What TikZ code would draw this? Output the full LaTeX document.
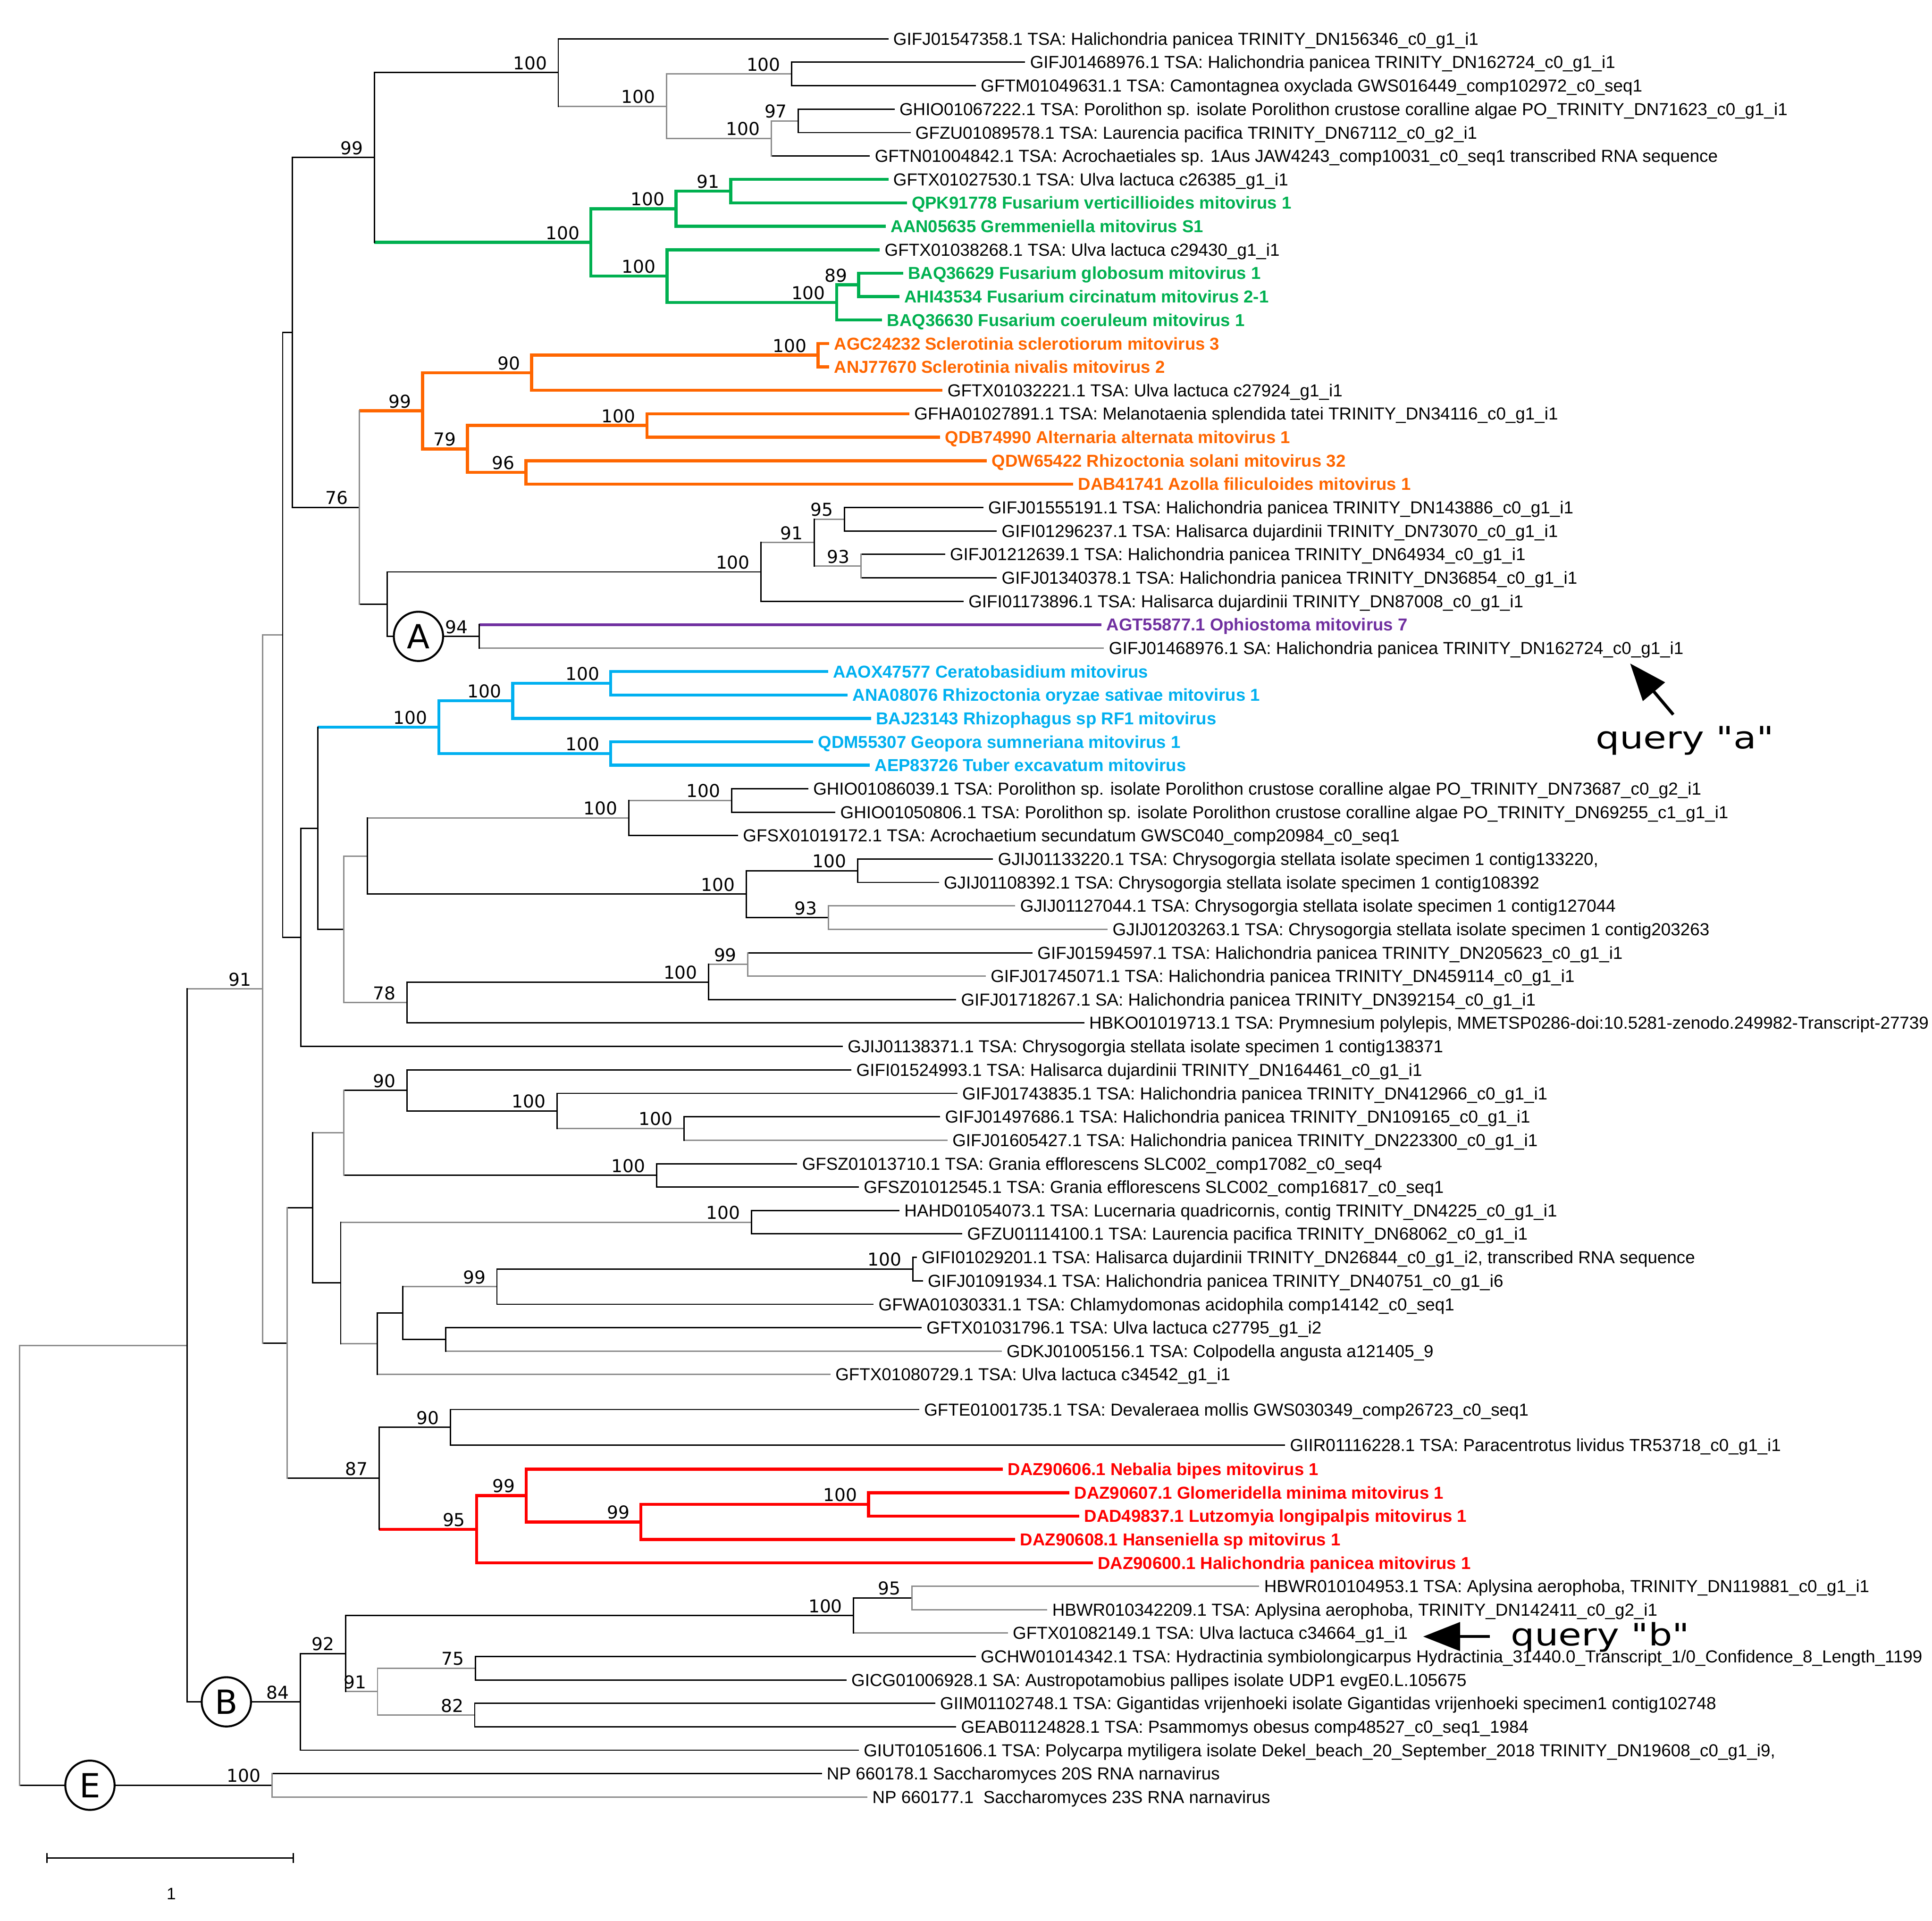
\documentclass[tikz,border=0pt]{standalone}
\usepackage{fontspec}
\usepackage{graphicx}
\setmainfont{Liberation Sans}
\newfontfamily\dvs{DejaVu Sans}
\usetikzlibrary{arrows.meta}
\definecolor{cG}{HTML}{00B050}
\definecolor{cO}{HTML}{FF6600}
\definecolor{cB}{HTML}{00B0F0}
\definecolor{cR}{HTML}{FF0000}
\definecolor{cP}{HTML}{7030A0}
\definecolor{cGr}{HTML}{8C8C8C}
\tikzset{
  brK/.style={draw=black, line width=1.1pt},
  brA/.style={draw=cGr, line width=1.1pt},
  brG/.style={draw=cG, line width=2.5pt},
  brO/.style={draw=cO, line width=2.5pt},
  brB/.style={draw=cB, line width=2.5pt},
  brR/.style={draw=cR, line width=2.5pt},
  brP/.style={draw=cP, line width=2.2pt},
  tip/.style={anchor=west, xshift=-4pt, outer xsep=4pt, outer ysep=0pt, inner sep=0pt,
    text height=10pt, text depth=0pt, font=\fontsize{14.1}{15}\selectfont},
  vtip/.style={tip, font=\fontsize{14}{15}\selectfont\bfseries},
  tG/.style={vtip, text=cG},
  tO/.style={vtip, text=cO},
  tB/.style={vtip, text=cB},
  tR/.style={vtip, text=cR},
  tP/.style={vtip, text=cP},
  sup/.style={anchor=base east, xshift=-9pt, yshift=2.5pt, inner sep=0pt,
    font=\dvs\fontsize{14.4}{15}\selectfont},
  circ/.style={circle, draw=black, line width=1.6pt, fill=white, minimum size=40pt,
    inner sep=0pt, font=\dvs\fontsize{27}{28}\selectfont},
  qlab/.style={anchor=base west, inner sep=0pt, font=\dvs\fontsize{25}{26}\selectfont},
  qarrow/.style={line width=2.5pt, -{Triangle[length=30pt, width=23pt]}}
}
\newcommand\tp[5][tip]{\node[#1] (t#2) at (#3,#4) {#5};}
\newcommand\sv[2]{\node[sup] (s#1) at (#1) {#2};}
\newcommand\nd[6]{%
  \draw[#4, line cap=butt] (#2 |- #3) -- (#3);
  \draw[#6, line cap=butt] (#2 |- #5) -- (#5);
  \draw[#1, line cap=rect] (#2 |- #3) -- (#2 |- #5);}
\begin{document}
\begin{tikzpicture}[x=1pt, y=-1pt]
\fill[white] (0,0) rectangle (1568,1559);
\useasboundingbox (0,0) rectangle (1568,1559);

% ---------- tip labels ----------
\tp{1}{725}{31.5}{GIFJ01547358.1 TSA: Halichondria panicea TRINITY\_DN156346\_c0\_g1\_i1}
\tp{2}{836}{50.5}{GIFJ01468976.1 TSA: Halichondria panicea TRINITY\_DN162724\_c0\_g1\_i1}
\tp{3}{796}{69.5}{GFTM01049631.1 TSA: Camontagnea oxyclada GWS016449\_comp102972\_c0\_seq1}
\tp{4}{730}{88.6}{GHIO01067222.1 TSA: Porolithon sp. isolate Porolithon crustose coralline algae PO\_TRINITY\_DN71623\_c0\_g1\_i1}
\tp{5}{743}{107.6}{GFZU01089578.1 TSA: Laurencia pacifica TRINITY\_DN67112\_c0\_g2\_i1}
\tp{6}{710}{126.6}{GFTN01004842.1 TSA: Acrochaetiales sp. 1Aus JAW4243\_comp10031\_c0\_seq1 transcribed RNA sequence}
\tp{7}{725}{145.6}{GFTX01027530.1 TSA: Ulva lactuca c26385\_g1\_i1}
\tp[tG]{8}{740}{164.6}{QPK91778 Fusarium verticillioides mitovirus 1}
\tp[tG]{9}{723}{183.7}{AAN05635 Gremmeniella mitovirus S1}
\tp{10}{718}{202.7}{GFTX01038268.1 TSA: Ulva lactuca c29430\_g1\_i1}
\tp[tG]{11}{737}{221.7}{BAQ36629 Fusarium globosum mitovirus 1}
\tp[tG]{12}{734}{240.7}{AHI43534 Fusarium circinatum mitovirus 2-1}
\tp[tG]{13}{720}{259.7}{BAQ36630 Fusarium coeruleum mitovirus 1}
\tp[tO]{14}{677}{278.8}{AGC24232 Sclerotinia sclerotiorum mitovirus 3}
\tp[tO]{15}{677}{297.8}{ANJ77670 Sclerotinia nivalis mitovirus 2}
\tp{16}{769}{316.8}{GFTX01032221.1 TSA: Ulva lactuca c27924\_g1\_i1}
\tp{17}{742}{335.8}{GFHA01027891.1 TSA: Melanotaenia splendida tatei TRINITY\_DN34116\_c0\_g1\_i1}
\tp[tO]{18}{767}{354.8}{QDB74990 Alternaria alternata mitovirus 1}
\tp[tO]{19}{805}{373.9}{QDW65422 Rhizoctonia solani mitovirus 32}
\tp[tO]{20}{875}{392.9}{DAB41741 Azolla filiculoides mitovirus 1}
\tp{21}{802}{411.9}{GIFJ01555191.1 TSA: Halichondria panicea TRINITY\_DN143886\_c0\_g1\_i1}
\tp{22}{813}{430.9}{GIFI01296237.1 TSA: Halisarca dujardinii TRINITY\_DN73070\_c0\_g1\_i1}
\tp{23}{771}{449.9}{GIFJ01212639.1 TSA: Halichondria panicea TRINITY\_DN64934\_c0\_g1\_i1}
\tp{24}{813}{469.0}{GIFJ01340378.1 TSA: Halichondria panicea TRINITY\_DN36854\_c0\_g1\_i1}
\tp{25}{786}{488.0}{GIFI01173896.1 TSA: Halisarca dujardinii TRINITY\_DN87008\_c0\_g1\_i1}
\tp[tP]{26}{898}{507.0}{AGT55877.1 Ophiostoma mitovirus 7}
\tp{27}{900}{526.0}{GIFJ01468976.1 SA: Halichondria panicea TRINITY\_DN162724\_c0\_g1\_i1}
\tp[tB]{28}{676}{545.0}{AAOX47577 Ceratobasidium mitovirus}
\tp[tB]{29}{692}{564.1}{ANA08076 Rhizoctonia oryzae sativae mitovirus 1}
\tp[tB]{30}{711}{583.1}{BAJ23143 Rhizophagus sp RF1 mitovirus}
\tp[tB]{31}{664}{602.1}{QDM55307 Geopora sumneriana mitovirus 1}
\tp[tB]{32}{710}{621.1}{AEP83726 Tuber excavatum mitovirus}
\tp{33}{660}{640.1}{GHIO01086039.1 TSA: Porolithon sp. isolate Porolithon crustose coralline algae PO\_TRINITY\_DN73687\_c0\_g2\_i1}
\tp{34}{682}{659.2}{GHIO01050806.1 TSA: Porolithon sp. isolate Porolithon crustose coralline algae PO\_TRINITY\_DN69255\_c1\_g1\_i1}
\tp{35}{603}{678.2}{GFSX01019172.1 TSA: Acrochaetium secundatum GWSC040\_comp20984\_c0\_seq1}
\tp{36}{810}{697.2}{GJIJ01133220.1 TSA: Chrysogorgia stellata isolate specimen 1 contig133220,}
\tp{37}{766}{716.2}{GJIJ01108392.1 TSA: Chrysogorgia stellata isolate specimen 1 contig108392}
\tp{38}{828}{735.2}{GJIJ01127044.1 TSA: Chrysogorgia stellata isolate specimen 1 contig127044}
\tp{39}{903}{754.3}{GJIJ01203263.1 TSA: Chrysogorgia stellata isolate specimen 1 contig203263}
\tp{40}{842}{773.3}{GIFJ01594597.1 TSA: Halichondria panicea TRINITY\_DN205623\_c0\_g1\_i1}
\tp{41}{804}{792.3}{GIFJ01745071.1 TSA: Halichondria panicea TRINITY\_DN459114\_c0\_g1\_i1}
\tp{42}{780}{811.3}{GIFJ01718267.1 SA: Halichondria panicea TRINITY\_DN392154\_c0\_g1\_i1}
\tp{43}{884}{830.3}{HBKO01019713.1 TSA: Prymnesium polylepis, MMETSP0286-doi:10.5281-zenodo.249982-Transcript-27739}
\tp{44}{688}{849.4}{GJIJ01138371.1 TSA: Chrysogorgia stellata isolate specimen 1 contig138371}
\tp{45}{695}{868.4}{GIFI01524993.1 TSA: Halisarca dujardinii TRINITY\_DN164461\_c0\_g1\_i1}
\tp{46}{781}{887.4}{GIFJ01743835.1 TSA: Halichondria panicea TRINITY\_DN412966\_c0\_g1\_i1}
\tp{47}{767}{906.4}{GIFJ01497686.1 TSA: Halichondria panicea TRINITY\_DN109165\_c0\_g1\_i1}
\tp{48}{773}{925.4}{GIFJ01605427.1 TSA: Halichondria panicea TRINITY\_DN223300\_c0\_g1\_i1}
\tp{49}{651}{944.5}{GFSZ01013710.1 TSA: Grania efflorescens SLC002\_comp17082\_c0\_seq4}
\tp{50}{701}{963.5}{GFSZ01012545.1 TSA: Grania efflorescens SLC002\_comp16817\_c0\_seq1}
\tp{51}{734}{982.5}{HAHD01054073.1 TSA: Lucernaria quadricornis, contig TRINITY\_DN4225\_c0\_g1\_i1}
\tp{52}{785}{1001.5}{GFZU01114100.1 TSA: Laurencia pacifica TRINITY\_DN68062\_c0\_g1\_i1}
\tp{53}{748}{1020.5}{GIFI01029201.1 TSA: Halisarca dujardinii TRINITY\_DN26844\_c0\_g1\_i2, transcribed RNA sequence}
\tp{54}{753}{1039.6}{GIFJ01091934.1 TSA: Halichondria panicea TRINITY\_DN40751\_c0\_g1\_i6}
\tp{55}{713}{1058.6}{GFWA01030331.1 TSA: Chlamydomonas acidophila comp14142\_c0\_seq1}
\tp{56}{752}{1077.6}{GFTX01031796.1 TSA: Ulva lactuca c27795\_g1\_i2}
\tp{57}{817}{1096.6}{GDKJ01005156.1 TSA: Colpodella angusta a121405\_9}
\tp{58}{678}{1115.6}{GFTX01080729.1 TSA: Ulva lactuca c34542\_g1\_i1}
\tp{59}{750}{1144}{GFTE01001735.1 TSA: Devaleraea mollis GWS030349\_comp26723\_c0\_seq1}
\tp{60}{1047}{1173}{GIIR01116228.1 TSA: Paracentrotus lividus TR53718\_c0\_g1\_i1}
\tp[tR]{61}{818}{1192.5}{DAZ90606.1 Nebalia bipes mitovirus 1}
\tp[tR]{62}{872}{1211.5}{DAZ90607.1 Glomeridella minima mitovirus 1}
\tp[tR]{63}{880}{1230.5}{DAD49837.1 Lutzomyia longipalpis mitovirus 1}
\tp[tR]{64}{828}{1249.5}{DAZ90608.1 Hanseniella sp mitovirus 1}
\tp[tR]{65}{891}{1268.5}{DAZ90600.1 Halichondria panicea mitovirus 1}
\tp{66}{1026}{1287.5}{HBWR010104953.1 TSA: Aplysina aerophoba, TRINITY\_DN119881\_c0\_g1\_i1}
\tp{67}{854}{1306.5}{HBWR010342209.1 TSA: Aplysina aerophoba, TRINITY\_DN142411\_c0\_g2\_i1}
\tp{68}{822}{1325.5}{GFTX01082149.1 TSA: Ulva lactuca c34664\_g1\_i1}
\tp{69}{796}{1344.5}{GCHW01014342.1 TSA: Hydractinia symbiolongicarpus Hydractinia\_31440.0\_Transcript\_1/0\_Confidence\_8\_Length\_1199}
\tp{70}{691}{1363.5}{GICG01006928.1 SA: Austropotamobius pallipes isolate UDP1 evgE0.L.105675}
\tp{71}{763}{1382.5}{GIIM01102748.1 TSA: Gigantidas vrijenhoeki isolate Gigantidas vrijenhoeki specimen1 contig102748}
\tp{72}{780}{1401.5}{GEAB01124828.1 TSA: Psammomys obesus comp48527\_c0\_seq1\_1984}
\tp{73}{701}{1420.5}{GIUT01051606.1 TSA: Polycarpa mytiligera isolate Dekel\_beach\_20\_September\_2018 TRINITY\_DN19608\_c0\_g1\_i9,}
\tp{74}{671}{1439.5}{NP 660178.1 Saccharomyces 20S RNA narnavirus}
\tp{75}{708}{1458.5}{NP 660177.1~ Saccharomyces 23S RNA narnavirus}

% ---------- internal nodes ----------
\coordinate (R) at (15.9,1270.5);
\coordinate (N152) at (151.8,1092);
\coordinate (N213) at (213.2,802.7);
\coordinate (N229) at (229.4,515.3);
\coordinate (N237) at (237.4,269.85);
\coordinate (N99) at (303.9,127.8);
\coordinate (N100a) at (453.1,58.85);
\coordinate (N100a2) at (541,86.2);
\coordinate (N100a3) at (642.6,60);
\coordinate (N100a4) at (626,112.35);
\coordinate (N97) at (648,98.1);
\coordinate (NG) at (479.5,196.75);
\coordinate (NG100a) at (548.6,169.4);
\coordinate (NG91) at (593,155.1);
\coordinate (NG100b) at (541.3,224.1);
\coordinate (NG100c) at (679,245.45);
\coordinate (NG89) at (696.9,231.2);
\coordinate (N76) at (291.5,411.9);
\coordinate (NO) at (343,333.45);
\coordinate (NO90) at (431.5,302.55);
\coordinate (NO100) at (664,288.3);
\coordinate (NO79) at (379.3,364.35);
\coordinate (NO100b) at (525,345.3);
\coordinate (NO96) at (426.8,383.4);
\coordinate (NL) at (314.2,490.35);
\coordinate (NL100) at (617.7,464.2);
\coordinate (NL91) at (660.7,440.4);
\coordinate (NL95) at (685.5,421.4);
\coordinate (NL93) at (698.8,459.45);
\coordinate (NA) at (389,516.5);
\coordinate (N244) at (244,760.8);
\coordinate (N258) at (257.8,672.2);
\coordinate (NBL) at (356.1,590.2);
\coordinate (NBL100) at (416.1,568.8);
\coordinate (NBL100c) at (495.6,554.55);
\coordinate (NBL100b) at (495.6,611.6);
\coordinate (N279) at (279.1,754.25);
\coordinate (N298) at (298.3,694.8);
\coordinate (N510) at (510.2,663.9);
\coordinate (N594) at (593.8,649.65);
\coordinate (N606) at (605.7,725.7);
\coordinate (N696) at (696.1,706.7);
\coordinate (N672) at (672.2,744.75);
\coordinate (N78) at (330.4,813.7);
\coordinate (N575) at (575.2,797.05);
\coordinate (N607) at (607,782.8);
\coordinate (N233) at (233,1090.1);
\coordinate (N254) at (253.9,980.4);
\coordinate (N279b) at (279.1,919.5);
\coordinate (N90a) at (330.4,885);
\coordinate (N452) at (452,901.65);
\coordinate (N555) at (555,915.9);
\coordinate (N533) at (533,954);
\coordinate (N276) at (276.5,1041.3);
\coordinate (N610) at (610,992);
\coordinate (N306) at (306.2,1090.65);
\coordinate (N327) at (326.8,1065.7);
\coordinate (N403) at (403.3,1044.3);
\coordinate (N741) at (741,1030.05);
\coordinate (N362) at (361.6,1087.1);
\coordinate (N87) at (307.7,1199.85);
\coordinate (N90b) at (365.5,1158.5);
\coordinate (NR) at (386.8,1241.2);
\coordinate (NR99) at (427.1,1213.9);
\coordinate (NR99b) at (520.1,1235.25);
\coordinate (NR100) at (704.8,1221);
\coordinate (NB) at (243.9,1381.3);
\coordinate (N92) at (280.4,1342.1);
\coordinate (N100b) at (692.8,1311.25);
\coordinate (N95b) at (740,1297);
\coordinate (N91b) at (306.4,1373);
\coordinate (N75) at (385.8,1354);
\coordinate (N82) at (385.3,1392);
\coordinate (NE) at (220.7,1449);

% ---------- branches ----------
\nd{brA}{R}{N152}{brA}{NE}{brK}
\nd{brK}{N152}{N213}{brA}{NB}{brK}
\nd{brA}{N213}{N229}{brA}{N233}{brK}
\nd{brK}{N229}{N237}{brK}{N244}{brK}
\nd{brK}{N237}{N99}{brK}{N76}{brK}
\nd{brK}{N99}{N100a}{brK}{NG}{brG}
\nd{brK}{N100a}{t1.west}{brK}{N100a2}{brA}
\nd{brA}{N100a2}{N100a3}{brA}{N100a4}{brA}
\nd{brK}{N100a3}{t2.west}{brK}{t3.west}{brK}
\nd{brA}{N100a4}{N97}{brA}{t6.west}{brK}
\nd{brK}{N97}{t4.west}{brK}{t5.west}{brK}
\nd{brG}{NG}{NG100a}{brG}{NG100b}{brG}
\nd{brG}{NG100a}{NG91}{brG}{t9.west}{brG}
\nd{brG}{NG91}{t7.west}{brG}{t8.west}{brG}
\nd{brG}{NG100b}{t10.west}{brG}{NG100c}{brG}
\nd{brG}{NG100c}{NG89}{brG}{t13.west}{brG}
\nd{brG}{NG89}{t11.west}{brG}{t12.west}{brG}
\nd{brA}{N76}{NO}{brO}{NL}{brK}
\nd{brO}{NO}{NO90}{brO}{NO79}{brO}
\nd{brO}{NO90}{NO100}{brO}{t16.west}{brO}
\nd{brO}{NO100}{t14.west}{brO}{t15.west}{brO}
\nd{brO}{NO79}{NO100b}{brO}{NO96}{brO}
\nd{brO}{NO100b}{t17.west}{brO}{t18.west}{brO}
\nd{brO}{NO96}{t19.west}{brO}{t20.west}{brO}
\nd{brK}{NL}{NL100}{brK}{NA}{brK}
\nd{brK}{NL100}{NL91}{brA}{t25.west}{brK}
\nd{brK}{NL91}{NL95}{brA}{NL93}{brA}
\nd{brK}{NL95}{t21.west}{brK}{t22.west}{brK}
\nd{brA}{NL93}{t23.west}{brK}{t24.west}{brK}
\nd{brK}{NA}{t26.west}{brP}{t27.west}{brA}
\nd{brK}{N244}{N258}{brK}{t44.west}{brK}
\nd{brK}{N258}{NBL}{brB}{N279}{brK}
\nd{brB}{NBL}{NBL100}{brB}{NBL100b}{brB}
\nd{brB}{NBL100}{NBL100c}{brB}{t30.west}{brB}
\nd{brB}{NBL100c}{t28.west}{brB}{t29.west}{brB}
\nd{brB}{NBL100b}{t31.west}{brB}{t32.west}{brB}
\nd{brA}{N279}{N298}{brA}{N78}{brA}
\nd{brK}{N298}{N510}{brA}{N606}{brK}
\nd{brK}{N510}{N594}{brA}{t35.west}{brK}
\nd{brK}{N594}{t33.west}{brK}{t34.west}{brK}
\nd{brK}{N606}{N696}{brK}{N672}{brK}
\nd{brK}{N696}{t36.west}{brK}{t37.west}{brK}
\nd{brA}{N672}{t38.west}{brA}{t39.west}{brA}
\nd{brK}{N78}{N575}{brK}{t43.west}{brK}
\nd{brK}{N575}{N607}{brA}{t42.west}{brK}
\nd{brA}{N607}{t40.west}{brK}{t41.west}{brA}
\nd{brA}{N233}{N254}{brK}{N87}{brK}
\nd{brK}{N254}{N279b}{brA}{N276}{brK}
\nd{brA}{N279b}{N90a}{brK}{N533}{brK}
\nd{brK}{N90a}{t45.west}{brK}{N452}{brK}
\nd{brK}{N452}{t46.west}{brK}{N555}{brA}
\nd{brK}{N555}{t47.west}{brK}{t48.west}{brA}
\nd{brK}{N533}{t49.west}{brK}{t50.west}{brK}
\nd{brK}{N276}{N610}{brA}{N306}{brA}
\nd{brK}{N610}{t51.west}{brK}{t52.west}{brK}
\nd{brK}{N306}{N327}{brK}{t58.west}{brA}
\nd{brK}{N327}{N403}{brA}{N362}{brK}
\nd{brK}{N403}{N741}{brK}{t55.west}{brK}
\nd{brK}{N741}{t53.west}{brK}{t54.west}{brK}
\nd{brK}{N362}{t56.west}{brK}{t57.west}{brA}
\nd{brK}{N87}{N90b}{brK}{NR}{brR}
\nd{brK}{N90b}{t59.west}{brK}{t60.west}{brK}
\nd{brR}{NR}{NR99}{brR}{t65.west}{brR}
\nd{brR}{NR99}{t61.west}{brR}{NR99b}{brR}
\nd{brR}{NR99b}{NR100}{brR}{t64.west}{brR}
\nd{brR}{NR100}{t62.west}{brR}{t63.west}{brR}
\nd{brK}{NB}{N92}{brK}{t73.west}{brK}
\nd{brK}{N92}{N100b}{brK}{N91b}{brA}
\nd{brK}{N100b}{N95b}{brK}{t68.west}{brA}
\nd{brA}{N95b}{t66.west}{brA}{t67.west}{brA}
\nd{brA}{N91b}{N75}{brA}{N82}{brA}
\nd{brK}{N75}{t69.west}{brK}{t70.west}{brK}
\nd{brK}{N82}{t71.west}{brK}{t72.west}{brK}
\nd{brA}{NE}{t74.west}{brK}{t75.west}{brA}

% ---------- support values ----------
\sv{N99}{99}
\sv{N100a}{100}
\sv{N100a2}{100}
\sv{N100a3}{100}
\sv{N100a4}{100}
\sv{N97}{97}
\sv{NG}{100}
\sv{NG100a}{100}
\sv{NG91}{91}
\sv{NG100b}{100}
\sv{NG100c}{100}
\sv{NG89}{89}
\sv{N76}{76}
\sv{NO}{99}
\sv{NO90}{90}
\sv{NO100}{100}
\sv{NO79}{79}
\sv{NO100b}{100}
\sv{NO96}{96}
\sv{NL100}{100}
\sv{NL91}{91}
\sv{NL95}{95}
\sv{NL93}{93}
\sv{NA}{94}
\sv{N213}{91}
\sv{NBL}{100}
\sv{NBL100}{100}
\sv{NBL100c}{100}
\sv{NBL100b}{100}
\sv{N510}{100}
\sv{N594}{100}
\sv{N606}{100}
\sv{N696}{100}
\sv{N672}{93}
\sv{N78}{78}
\sv{N575}{100}
\sv{N607}{99}
\sv{N90a}{90}
\sv{N452}{100}
\sv{N555}{100}
\sv{N533}{100}
\sv{N610}{100}
\sv{N403}{99}
\sv{N741}{100}
\sv{N87}{87}
\sv{N90b}{90}
\sv{NR}{95}
\sv{NR99}{99}
\sv{NR99b}{99}
\sv{NR100}{100}
\sv{NB}{84}
\sv{N92}{92}
\sv{N100b}{100}
\sv{N95b}{95}
\sv{N91b}{91}
\sv{N75}{75}
\sv{N82}{82}
\sv{NE}{100}

% ---------- circled clade letters ----------
\node[circ] (cA) at (339.6,516.5) {A};
\node[circ] (cB) at (183.7,1381.3) {B};
\node[circ] (cE) at (73,1449) {E};

% ---------- query annotations ----------
\node[qlab] (qa) at (1295,607.5) {\scalebox{1.22}[1]{query "a"}};
\coordinate (qaS) at (1358,580);
\coordinate (qaE) at (1323,538.5);
\draw[qarrow] (qaS) -- (qaE);
\node[qlab] (qb) at (1226,1335.5) {\scalebox{1.22}[1]{query "b"}};
\coordinate (qbS) at (1209,1328.3);
\coordinate (qbE) at (1155,1328.3);
\draw[qarrow] (qbS) -- (qbE);

% ---------- scale bar ----------
\coordinate (sb1) at (38,1508);
\coordinate (sb2) at (238,1508);
\draw[brK] (sb1) -- (sb2);
\draw[brK] ([yshift=4pt]sb1) -- ([yshift=-4pt]sb1);
\draw[brK] ([yshift=4pt]sb2) -- ([yshift=-4pt]sb2);
\node[font=\fontsize{13.5}{14}\selectfont, inner sep=0pt] (sbl) at (139,1537) {1};
\end{tikzpicture}
\end{document}
